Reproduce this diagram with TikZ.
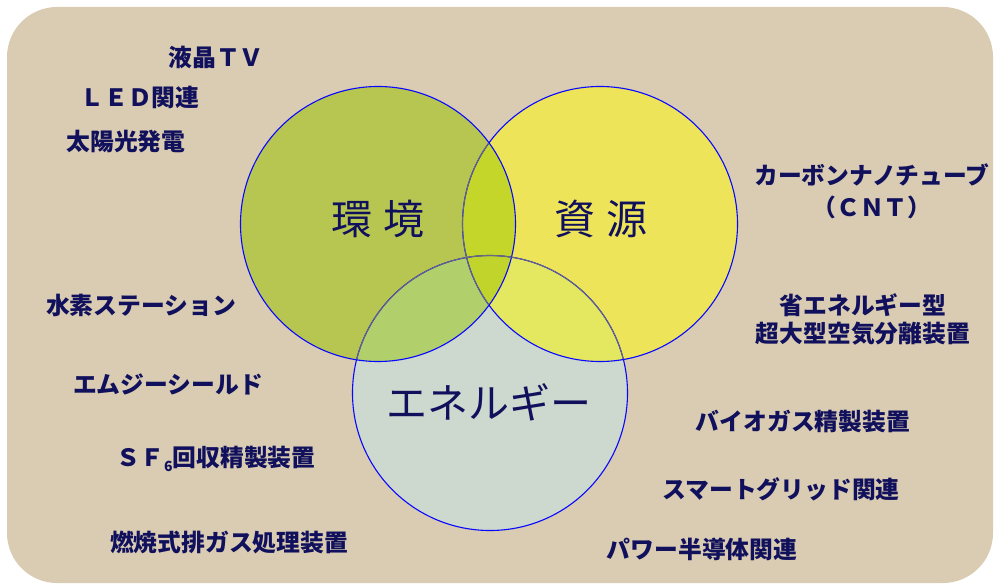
\documentclass[tikz,border=0pt]{standalone}
\usepackage{fontspec}
\newfontfamily\jp{Noto Sans CJK JP}
\definecolor{navy}{HTML}{10105C}
\definecolor{bgc}{HTML}{D9CCB2}
\definecolor{ringblue}{HTML}{0808FF}
\definecolor{ringgray}{HTML}{6A6A7A}
\definecolor{colK}{HTML}{B7C650}
\definecolor{colS}{HTML}{EEE45A}
\definecolor{colE}{HTML}{CDD8CE}
\definecolor{colKS}{HTML}{C4D62A}
\definecolor{colKE}{HTML}{B1CF6A}
\definecolor{colSE}{HTML}{E4E861}
\definecolor{colKSE}{HTML}{C0D42C}
\begin{document}
\begin{tikzpicture}[x=1pt,y=-1pt,
  lbl/.style={font=\jp\bfseries\fontsize{23.8}{27}\selectfont, text=navy, inner sep=0pt, align=center},
  big/.style={font=\jp\fontsize{41}{44}\selectfont, text=navy, inner sep=0pt},
  ring/.style={draw=ringblue, line width=1.1pt},
  hidden/.style={draw=ringgray, line width=0.9pt}]
\useasboundingbox (0,0) rectangle (995,585);
\fill[bgc, rounded corners=50pt] (7,7) rectangle (993,583);
\coordinate (cK) at (378,224);
\coordinate (cS) at (600,224);
\coordinate (cE) at (490,393);
% base fills
\fill[colE] (cE) circle[radius=137.5pt];
\fill[colS] (cS) circle[radius=137.5pt];
\fill[colK] (cK) circle[radius=137.5pt];
\begin{scope}
  \clip (cK) circle[radius=137.5pt];
  \fill[colKS] (cS) circle[radius=137.5pt];
\end{scope}
\begin{scope}
  \clip (cK) circle[radius=137.5pt];
  \fill[colKE] (cE) circle[radius=137.5pt];
\end{scope}
\begin{scope}
  \clip (cS) circle[radius=137.5pt];
  \fill[colSE] (cE) circle[radius=137.5pt];
\end{scope}
\begin{scope}
  \clip (cK) circle[radius=137.5pt];
  \clip (cS) circle[radius=137.5pt];
  \fill[colKSE] (cE) circle[radius=137.5pt];
\end{scope}
% outlines
\draw[ring] (cE) circle[radius=137.5pt];
\draw[ring] (cS) circle[radius=137.5pt];
\draw[ring] (cK) circle[radius=137.5pt];
\begin{scope}
  \clip (cK) circle[radius=137pt];
  \draw[hidden] (cS) circle[radius=137.5pt];
  \draw[hidden] (cE) circle[radius=137.5pt];
\end{scope}
\begin{scope}
  \clip (cS) circle[radius=137pt];
  \draw[hidden] (cE) circle[radius=137.5pt];
\end{scope}
% circle labels
\node[big] (lK) at (378,219) {環\hspace{12pt}境};
\node[big] (lS) at (601,219) {資\hspace{12pt}源};
\node[big] (lE) at (489,402) {エネルギー};
% item labels
\node[lbl] (t1) at (216,57) {液晶ＴＶ};
\node[lbl] (t2) at (140,97) {ＬＥＤ関連};
\node[lbl] (t3) at (126,142) {太陽光発電};
\node[lbl] (t4) at (141,305) {水素ステーション};
\node[lbl] (t5) at (168,384) {エムジーシールド};
\node[lbl] (t6) at (216,459) {ＳＦ\raisebox{-5pt}{\fontsize{14}{14}\selectfont 6}回収精製装置};
\node[lbl] (t7) at (229,542) {燃焼式排ガス処理装置};
\node[lbl, font=\jp\bfseries\fontsize{23.8}{32}\selectfont] (t8) at (872,191) {カーボンナノチューブ\\（ＣＮＴ）};
\node[lbl, font=\jp\bfseries\fontsize{23.8}{28}\selectfont] (t9) at (863,319) {省エネルギー型\\超大型空気分離装置};
\node[lbl] (t10) at (803,421) {バイオガス精製装置};
\node[lbl] (t11) at (781,489) {スマートグリッド関連};
\node[lbl] (t12) at (702,549) {パワー半導体関連};
\end{tikzpicture}
\end{document}
